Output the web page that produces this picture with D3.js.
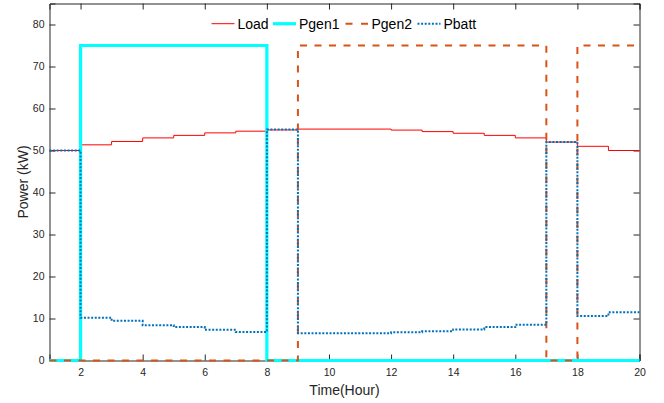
<!DOCTYPE html>
<html>
<head>
<meta charset="utf-8">
<script src="https://cdn.jsdelivr.net/npm/d3@7"></script>
<style>
  body { margin: 0; background: #fff; }
  svg { display: block; font-family: "Liberation Sans", Arial, sans-serif; }
</style>
</head>
<body>
<div id="chart"></div>
<script>
// horas (stairs: cada valor vale do início da hora até a próxima)
const hours = d3.range(1, 21);

const load = [50.0, 51.35, 52.15, 53.0, 53.6, 54.2, 54.6, 54.9, 55.1, 55.1,
              55.1, 54.86, 54.5, 54.1, 53.6, 53.0, 52.0, 51.0, 50.0, 50.0];
const pgen1 = [0, 75, 75, 75, 75, 75, 75, 0, 0, 0,
               0, 0, 0, 0, 0, 0, 0, 0, 0, 0];
const pgen2 = [0, 0, 0, 0, 0, 0, 0, 0, 75, 75,
               75, 75, 75, 75, 75, 75, 0, 75, 75, 75];
const pbatt = [50.0, 10.2, 9.45, 8.4, 7.95, 7.3, 6.8, 55.0, 6.5, 6.5,
               6.5, 6.75, 6.95, 7.4, 7.95, 8.5, 52.0, 10.6, 11.5, 11.5];

const seriesNames = ["Load", "Pgen1", "Pgen2", "Pbatt"];
const xTicks = d3.range(2, 21, 2);
const yTicks = d3.range(0, 81, 10);

const styles = {
  Load:  { color: "#FF0000", width: 1,   dash: null },
  Pgen1: { color: "#00FFFF", width: 3.2, dash: null },
  Pgen2: { color: "#D95319", width: 2,   dash: "7,7.5" },
  Pbatt: { color: "#0072BD", width: 2,   dash: "2,1.6" }
};

const width = 664, height = 403;
const margin = { left: 49.5, right: 24.5, top: 3.5, bottom: 42.5 };

const svg = d3.select("#chart").append("svg")
  .attr("width", width)
  .attr("height", height);

const x = d3.scaleLinear().domain([1, 20]).range([margin.left, width - margin.right]);
const y = d3.scaleLinear().domain([0, 85]).range([height - margin.bottom, margin.top]);

const axisColor = "#262626";
const tickLen = 6;

// eixos com ticks para dentro (estilo matlab)
const gx = svg.append("g")
  .attr("transform", `translate(0,${y(0)})`)
  .call(d3.axisBottom(x).tickValues(xTicks).tickSize(-tickLen).tickPadding(8.3));
const gy = svg.append("g")
  .attr("transform", `translate(${x(1)},0)`)
  .call(d3.axisLeft(y).tickValues(yTicks).tickSize(-tickLen).tickPadding(5));
const gxTop = svg.append("g")
  .attr("transform", `translate(0,${y(85)})`)
  .call(d3.axisTop(x).tickValues(xTicks).tickSize(-tickLen).tickFormat(""));
const gyRight = svg.append("g")
  .attr("transform", `translate(${x(20)},0)`)
  .call(d3.axisRight(y).tickValues(yTicks).tickSize(-tickLen).tickFormat(""));

[gx, gy, gxTop, gyRight].forEach((g) => {
  g.selectAll("path.domain").attr("stroke", axisColor);
  g.selectAll(".tick line").attr("stroke", axisColor);
  g.selectAll(".tick text")
    .attr("fill", axisColor)
    .attr("font-size", 10.5)
    .attr("font-family", "Liberation Sans, Arial, sans-serif");
});

// linhas em degrau
const data = { Load: load, Pgen1: pgen1, Pgen2: pgen2, Pbatt: pbatt };
const line = d3.line()
  .x((d) => x(d.h))
  .y((d) => y(d.v))
  .curve(d3.curveStepAfter);

seriesNames.forEach((name) => {
  const st = styles[name];
  svg.append("path")
    .datum(hours.map((h, i) => ({ h, v: data[name][i] })))
    .attr("fill", "none")
    .attr("stroke", st.color)
    .attr("stroke-width", st.width)
    .attr("stroke-dasharray", st.dash)
    .attr("d", line);
});

// legenda horizontal no topo
const legendItems = [
  { name: "Load",  x0: 211.5 },
  { name: "Pgen1", x0: 273 },
  { name: "Pgen2", x0: 345.5 },
  { name: "Pbatt", x0: 417.5 }
];
const legY = 23.7;
legendItems.forEach((it) => {
  const st = styles[it.name];
  svg.append("line")
    .attr("x1", it.x0).attr("x2", it.x0 + 23)
    .attr("y1", legY).attr("y2", legY)
    .attr("stroke", st.color)
    .attr("stroke-width", st.width)
    .attr("stroke-dasharray", it.name === "Pgen2" ? "7,8.5" : st.dash);
  svg.append("text")
    .attr("x", it.x0 + 26)
    .attr("y", 29.3)
    .attr("font-size", 14)
    .attr("fill", "#000")
    .text(it.name);
});

// títulos dos eixos
svg.append("text")
  .attr("x", (x(1) + x(20)) / 2)
  .attr("y", 394.5)
  .attr("text-anchor", "middle")
  .attr("font-size", 14)
  .attr("fill", axisColor)
  .text("Time(Hour)");

svg.append("text")
  .attr("transform", `translate(28.3,${(y(0) + y(85)) / 2}) rotate(-90)`)
  .attr("text-anchor", "middle")
  .attr("font-size", 14)
  .attr("fill", axisColor)
  .text("Power (kW)");
</script>
</body>
</html>
